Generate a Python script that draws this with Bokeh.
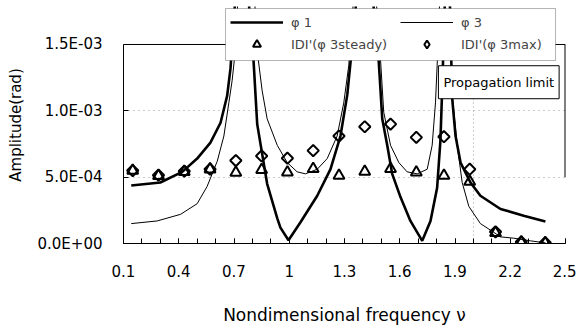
import math
from bokeh.plotting import figure
from bokeh.models import (Range1d, FixedTicker, Legend, LegendItem, Label, BoxAnnotation)
from bokeh.embed import file_html
from bokeh.resources import INLINE

# ---------------- data (amplitudes in rad) ----------------
nu_pts = [0.15, 0.29, 0.43, 0.57, 0.71, 0.85, 0.99, 1.13, 1.27, 1.41,
          1.55, 1.69, 1.84, 1.98, 2.12, 2.26, 2.39]
d_steady = [5.5e-4, 5.1e-4, 5.4e-4, 5.6e-4, 5.35e-4, 5.55e-4, 5.37e-4, 5.63e-4, 5.12e-4,
            5.42e-4, 5.63e-4, 5.37e-4, 5.12e-4, 4.67e-4, 0.8e-4, 0.08e-4, 0.03e-4]
d_max = [5.5e-4, 5.15e-4, 5.45e-4, 5.6e-4, 6.25e-4, 6.6e-4, 6.43e-4, 7.0e-4, 8.1e-4,
         8.8e-4, 9.0e-4, 8.0e-4, 8.05e-4, 5.6e-4, 0.88e-4, 0.12e-4, 0.06e-4]

nu_phi1 = [0.142, 0.30, 0.419, 0.50, 0.572, 0.627, 0.663, 0.681, 0.74, 0.806, 0.826,
           0.88, 0.935, 0.952, 0.996, 1.061, 1.152, 1.224, 1.278, 1.315, 1.333, 1.41,
           1.486, 1.505, 1.532, 1.559, 1.604, 1.658, 1.722, 1.767, 1.803, 1.821, 1.83,
           1.86, 1.885, 1.903, 1.93, 1.984, 2.038, 2.147, 2.273, 2.391]
amp_phi1 = [4.37e-4, 4.6e-4, 5.4e-4, 6.4e-4, 7.6e-4, 9.1e-4, 11.15e-4, 13.2e-4, 25e-4,
            13.8e-4, 9.0e-4, 4.5e-4, 1.9e-4, 1.2e-4, 0.25e-4, 1.6e-4, 3.6e-4, 5.6e-4,
            8.1e-4, 11.2e-4, 13.7e-4, 25e-4, 13.7e-4, 9.4e-4, 7.4e-4, 5.25e-4, 3.5e-4,
            1.7e-4, 0.2e-4, 1.7e-4, 4.2e-4, 7.8e-4, 11.5e-4, 25e-4, 10.9e-4, 8.1e-4,
            6.1e-4, 4.6e-4, 3.6e-4, 2.6e-4, 2.1e-4, 1.65e-4]

nu_phi3 = [0.142, 0.283, 0.41, 0.50, 0.554, 0.609, 0.645, 0.672, 0.69, 0.703, 0.77,
           0.826, 0.853, 0.88, 0.935, 0.989, 1.043, 1.088, 1.152, 1.206, 1.26, 1.296,
           1.323, 1.41, 1.495, 1.513, 1.55, 1.595, 1.64, 1.695, 1.749, 1.776, 1.794,
           1.803, 1.85, 1.886, 1.912, 1.939, 1.975, 2.038, 2.11, 2.147, 2.219, 2.31, 2.391]
amp_phi3 = [1.5e-4, 1.7e-4, 2.2e-4, 3.0e-4, 4.3e-4, 6.2e-4, 8.1e-4, 10.6e-4, 12.3e-4,
            14.0e-4, 30e-4, 14.5e-4, 11.5e-4, 9.4e-4, 7.4e-4, 6.1e-4, 5.4e-4, 5.25e-4,
            5.6e-4, 6.4e-4, 8.1e-4, 10.6e-4, 13.4e-4, 30e-4, 14e-4, 9.9e-4, 7.4e-4,
            6.1e-4, 5.4e-4, 5.25e-4, 5.6e-4, 7.4e-4, 10.6e-4, 13.4e-4, 30e-4, 11.0e-4,
            7.4e-4, 4.6e-4, 2.8e-4, 1.5e-4, 0.85e-4, 0.5e-4, 0.4e-4, 0.2e-4, 0.05e-4]

x_ticks = [0.1, 0.4, 0.7, 1.0, 1.3, 1.6, 1.9, 2.2, 2.5]
x_tick_labels = ["0.1", "0.4", "0.7", "1", "1.3", "1.6", "1.9", "2.2", "2.5"]
x_minor = [0.1, 0.2, 0.3, 0.4, 0.5, 0.6, 0.7, 0.8, 0.9, 1.0, 1.1, 1.2, 1.3, 1.4, 1.5,
           1.6, 1.7, 1.8, 1.9, 2.0, 2.1, 2.2, 2.3, 2.4, 2.5]
y_ticks = [0.0, 0.0005, 0.001, 0.0015]
y_tick_labels = ["0.0E+00", "5.0E-04", "1.0E-03", "1.5E-03"]

PROP_LIMIT = 2.0          # propagation limit frequency
PROP_BOX_LEFT = 1.81
PROP_BOX_TOP = 0.00134
PROP_LINE_TOP = 0.00110
X_MIN, X_MAX = 0.1, 2.5
Y_MIN, Y_MAX = 0.0, 0.0015
Y_VIEW_TOP = 0.0017864    # frame extends above the axis so the legend can sit on top
LEG_BOX = dict(left=0.654, right=2.446, bottom=0.001379, top=0.001771)

FONT = "DejaVu Sans"

p = figure(width=576, height=329, output_backend="svg", toolbar_location=None,
           x_range=Range1d(X_MIN, X_MAX), y_range=Range1d(Y_MIN, Y_VIEW_TOP),
           min_border_left=123, min_border_right=11, min_border_top=6,
           min_border_bottom=86)
p.outline_line_color = None
p.background_fill_color = "white"
p.border_fill_color = "white"

# grid
p.xgrid.visible = False
p.ygrid.ticker = FixedTicker(ticks=[0.0005, 0.001])
p.ygrid.grid_line_color = "#9a9a9a"
p.ygrid.grid_line_dash = "1 4"
p.ygrid.grid_line_width = 1

# frame borders (top and partial right)
p.segment(x0=[X_MIN], y0=[Y_MAX], x1=[X_MAX], y1=[Y_MAX], line_color="black", line_width=1)
p.segment(x0=[X_MAX], y0=[0.0005], x1=[X_MAX], y1=[Y_MAX], line_color="black", line_width=2)
# propagation limit line
p.segment(x0=[PROP_LIMIT], y0=[Y_MIN], x1=[PROP_LIMIT], y1=[PROP_LINE_TOP],
          line_color="#9a9a9a", line_dash="1 3", line_width=1)

r1 = p.line(nu_phi1, amp_phi1, line_color="black", line_width=2.6)
r3 = p.line(nu_phi3, amp_phi3, line_color="black", line_width=1)
rs = p.scatter(nu_pts, d_steady, marker="triangle", size=11, fill_color=None,
               line_color="black", line_width=2)
rm = p.scatter(nu_pts, d_max, marker="square", angle=math.pi / 4, size=8,
               fill_color=None, line_color="black", line_width=2)
# legend proxy for the diamond symbol (legend glyphs ignore marker angle)
rm_key = p.scatter([float("nan")], [float("nan")], marker="diamond", size=12,
                   fill_color=None, line_color="black", line_width=2)

# axes
for ax in (p.xaxis[0], p.yaxis[0]):
    ax.axis_line_color = "black"
    ax.major_tick_line_color = "black"
    ax.major_label_text_font = FONT
    ax.major_label_text_font_size = "15px"
    ax.major_label_text_color = "black"
    ax.axis_label_text_font = FONT
    ax.axis_label_text_font_style = "normal"
    ax.axis_label_text_color = "black"

p.xaxis.ticker = FixedTicker(ticks=x_ticks, minor_ticks=x_minor)
p.xaxis.major_label_overrides = dict(zip(x_ticks, x_tick_labels))
p.xaxis.major_tick_in = 5
p.xaxis.major_tick_out = 0
p.xaxis.minor_tick_in = 5
p.xaxis.minor_tick_out = 0
p.xaxis.minor_tick_line_color = "black"
p.xaxis.major_label_standoff = 21
p.xaxis.axis_label = "Nondimensional frequency \u03bd"
p.xaxis.axis_label_text_font_size = "17px"
p.xaxis.axis_label_standoff = 25

p.yaxis.ticker = FixedTicker(ticks=y_ticks)
p.yaxis.bounds = (Y_MIN, Y_MAX)
p.yaxis.major_label_overrides = dict(zip(y_ticks, y_tick_labels))
p.yaxis.major_tick_in = 5
p.yaxis.major_tick_out = 0
p.yaxis.minor_tick_line_color = None
p.yaxis.major_label_standoff = 21
p.yaxis.axis_label = "Amplitude(rad)"
p.yaxis.axis_label_text_font_size = "15px"
p.yaxis.axis_label_standoff = 10

# legend frame
box = BoxAnnotation(fill_color="white", fill_alpha=1.0, line_color="black",
                    line_width=1, level="annotation", **LEG_BOX)
p.add_layout(box)

leg_kw = dict(nrows=2, margin=0, padding=2, spacing=2, glyph_width=53, glyph_height=20,
              label_height=20, label_standoff=8, label_text_font=FONT,
              label_text_font_size="13px", border_line_color=None,
              background_fill_alpha=0.0, level="overlay")
legend_a = Legend(items=[LegendItem(label="\u03c6 1", renderers=[r1]),
                         LegendItem(label="IDI'(\u03c6 3steady)", renderers=[rs])],
                  location=(107, 189), **leg_kw)
legend_b = Legend(items=[LegendItem(label="\u03c6 3", renderers=[r3]),
                         LegendItem(label="IDI'(\u03c6 3max)", renderers=[rm_key])],
                  location=(277, 189), **leg_kw)
p.add_layout(legend_a, "center")
p.add_layout(legend_b, "center")

prop = Label(x=PROP_BOX_LEFT, y=PROP_BOX_TOP, text="Propagation limit", anchor="top_left",
             text_font=FONT, text_font_size="13px", text_color="black",
             padding=(5, 9), border_line_color="black", border_line_width=1,
             background_fill_color="white", background_fill_alpha=1.0)
p.add_layout(prop)

open("out.html", "w").write(file_html(p, INLINE))
